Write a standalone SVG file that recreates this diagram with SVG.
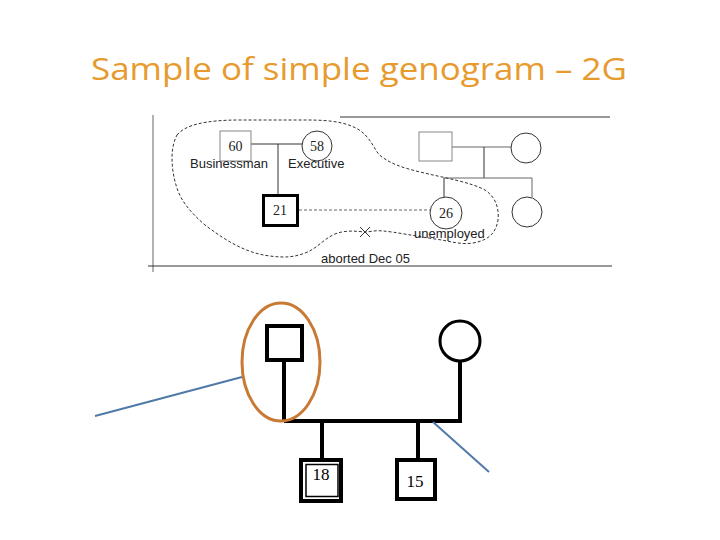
<svg xmlns="http://www.w3.org/2000/svg" width="720" height="540" viewBox="0 0 720 540">
<style>
.title{font-family:"Open Sans","Liberation Sans",sans-serif;font-size:31px;fill:#E79B2E}
.scan{fill:none;stroke:#333;stroke-width:1}
.scanlight{fill:none;stroke:#666;stroke-width:1}
.num{font-family:"Liberation Serif",serif;font-size:14px;fill:#222;text-anchor:middle}
.lbl{font-family:"Liberation Sans",sans-serif;font-size:13px;fill:#222}
.thick{fill:#fff;stroke:#000;stroke-width:4}
.ln{stroke:#000;stroke-width:4;fill:none}
.big{font-family:"Liberation Serif",serif;font-size:17px;fill:#000;text-anchor:middle}
.arrow{stroke:#4F7AA8;stroke-width:2;fill:none}
</style>
<rect width="720" height="540" fill="#fff"/>
<text class="title" x="91" y="80" textLength="536" lengthAdjust="spacingAndGlyphs">Sample of simple genogram – 2G</text>

<g id="scan-frame">
<line class="scanlight" x1="153" y1="115" x2="153" y2="272"/>
<line class="scan" x1="340" y1="117" x2="610" y2="117"/>
<line class="scan" x1="148" y1="266" x2="612" y2="266"/>
</g>

<g id="scan-connectors">
<line class="scan" x1="251" y1="144" x2="302" y2="144"/>
<line class="scan" x1="278" y1="144" x2="278" y2="194"/>
<line class="scanlight" x1="299" y1="210" x2="430" y2="210" stroke-dasharray="3 2"/>
<line class="scanlight" x1="452" y1="147" x2="511" y2="147"/>
<line class="scan" x1="484" y1="147" x2="484" y2="178"/>
<line class="scanlight" x1="444" y1="178" x2="532" y2="178"/>
<line class="scan" x1="444" y1="178" x2="444" y2="197"/>
<line class="scanlight" x1="532" y1="178" x2="532" y2="197"/>
<path class="scan" stroke-dasharray="3 2" d="M177 135 C185 125 205 120 240 120 L307 120 C330 120 355 122 367 137 C375 146 375 152 382 157 C392 164 400 167 420 172 C445 178 470 182 485 190 C497 198 499 210 498 220 C496 232 490 240 473 243 C460 245 450 241 435 239 C415 236 395 232 383 231 C375 230 370 232 365 232 C355 231 345 230 335 234 C322 240 318 248 305 253 C295 257 285 258 270 256 C245 253 225 240 205 225 C190 212 180 200 176 185 C171 168 170 148 177 135 Z"/>
<line class="scan" x1="360" y1="227" x2="370" y2="237"/>
<line class="scan" x1="370" y1="227" x2="360" y2="237"/>
</g>

<g id="n60">
<rect x="220" y="131" width="31" height="30" fill="#fff" stroke="#888" stroke-width="1"/>
<text class="num" x="235.5" y="151">60</text>
<text class="lbl" x="190" y="168">Businessman</text>
</g>
<g id="n58">
<circle cx="317" cy="146" r="15" fill="#fff" stroke="#333"/>
<text class="num" x="317" y="151">58</text>
<text class="lbl" x="288" y="168">Executive</text>
</g>
<g id="n21">
<rect x="263.5" y="195.5" width="34" height="30" fill="#fff" stroke="#000" stroke-width="3"/>
<text class="num" x="280" y="215">21</text>
</g>
<g id="n26">
<circle cx="446" cy="213" r="16" fill="#fff" stroke="#333"/>
<text class="num" x="446" y="218">26</text>
<text class="lbl" x="414" y="238">unemployed</text>
</g>
<g id="aborted">
<text class="lbl" x="321" y="263">aborted Dec 05</text>
</g>
<g id="r-father">
<rect x="419" y="132" width="33" height="29" fill="#fff" stroke="#888"/>
</g>
<g id="r-mother">
<circle cx="526" cy="148" r="15" fill="#fff" stroke="#333"/>
</g>
<g id="r-sister">
<circle cx="527" cy="212" r="15" fill="#fff" stroke="#333"/>
</g>

<g id="connectors">
<line class="ln" x1="284" y1="361" x2="284" y2="421"/>
<polyline class="ln" points="284,421 460,421 460,362"/>
<line class="ln" x1="322" y1="421" x2="322" y2="459"/>
<line class="ln" x1="418" y1="421" x2="418" y2="459"/>
<line class="arrow" x1="95" y1="416" x2="242" y2="377"/>
<line class="arrow" x1="433" y1="422" x2="489" y2="472"/>
</g>

<g id="father">
<rect class="thick" x="267" y="326" width="35" height="34"/>
</g>
<g id="mother">
<circle cx="460" cy="341" r="20" fill="#fff" stroke="#000" stroke-width="3"/>
</g>
<g id="child18">
<rect class="thick" x="301" y="460" width="40" height="41"/>
<rect x="306" y="464.5" width="32" height="32" fill="none" stroke="#000" stroke-width="1.5"/>
<text class="big" x="321" y="480">18</text>
</g>
<g id="child15">
<rect class="thick" x="397" y="460" width="38" height="39"/>
<text class="big" x="415" y="487">15</text>
</g>
<g id="highlight">
<ellipse cx="281" cy="362" rx="39" ry="59" fill="none" stroke="#C87A35" stroke-width="3"/>
</g>
</svg>
